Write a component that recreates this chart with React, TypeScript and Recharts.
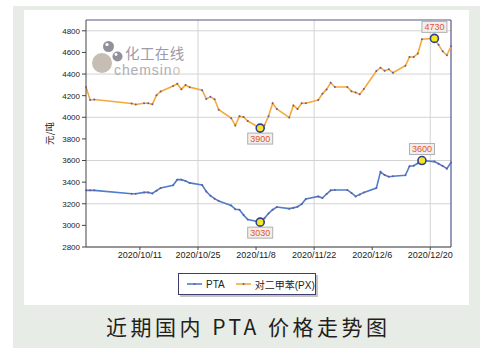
import React from "react";
import { LineChart, Line, XAxis, YAxis, CartesianGrid, ReferenceLine } from "recharts";

// trading days shown in the chart
const dates = [
  "2020/9/28", "2020/9/29", "2020/9/30",
  "2020/10/9", "2020/10/10", "2020/10/12", "2020/10/13", "2020/10/14", "2020/10/15", "2020/10/16",
  "2020/10/19", "2020/10/20", "2020/10/21", "2020/10/22", "2020/10/23",
  "2020/10/26", "2020/10/27", "2020/10/28", "2020/10/29", "2020/10/30",
  "2020/11/2", "2020/11/3", "2020/11/4", "2020/11/5", "2020/11/6",
  "2020/11/9", "2020/11/10", "2020/11/11", "2020/11/12", "2020/11/13",
  "2020/11/16", "2020/11/17", "2020/11/18", "2020/11/19", "2020/11/20",
  "2020/11/23", "2020/11/24", "2020/11/25", "2020/11/26", "2020/11/27",
  "2020/11/30", "2020/12/1", "2020/12/2", "2020/12/3", "2020/12/4",
  "2020/12/7", "2020/12/8", "2020/12/9", "2020/12/10", "2020/12/11",
  "2020/12/14", "2020/12/15", "2020/12/16", "2020/12/17", "2020/12/18",
  "2020/12/21", "2020/12/22", "2020/12/23", "2020/12/24", "2020/12/25",
];

const ptaValues = [
  3324, 3324, 3324,
  3293, 3293, 3305, 3305, 3295, 3321, 3346,
  3372, 3423, 3423, 3411, 3393,
  3374, 3314, 3274, 3247, 3225,
  3184, 3150, 3144, 3095, 3055,
  3030, 3065, 3110, 3145, 3170,
  3155, 3162, 3172, 3197, 3244,
  3268, 3253, 3290, 3324, 3328,
  3328, 3300, 3268, 3285, 3305,
  3345, 3495, 3465, 3450, 3455,
  3463, 3548, 3552, 3575, 3600,
  3590, 3570, 3550, 3525, 3582,
];

const pxValues = [
  4280, 4160, 4165,
  4127, 4118, 4130, 4130, 4121, 4205, 4239,
  4290, 4310, 4260, 4298, 4279,
  4251, 4170, 4189, 4167, 4070,
  3992, 3924, 4010, 4003, 3965,
  3900, 3925, 4010, 4130, 4077,
  3997, 4110, 4077, 4130, 4130,
  4160, 4217, 4258, 4320, 4280,
  4280, 4240, 4230, 4212, 4262,
  4428, 4459, 4430, 4444, 4412,
  4477, 4558, 4558, 4590, 4722,
  4730, 4670, 4610, 4574, 4657,
];

const seriesNames = ["PTA", "对二甲苯(PX)"];
const seriesColors = ["#4f7fca", "#f7a83c"];
const xTickLabels = ["2020/10/11", "2020/10/25", "2020/11/8", "2020/11/22", "2020/12/6", "2020/12/20"];
const yTicks = [2800, 3000, 3200, 3400, 3600, 3800, 4000, 4200, 4400, 4600, 4800];
const yMax = 4900;

const start = Date.UTC(2020, 8, 28);
function dayOf(s: string) {
  const [y, m, d] = s.split("/").map(Number);
  return Math.round((Date.UTC(y, m - 1, d) - start) / 86400000);
}

const lastDay = dayOf(dates[dates.length - 1]);
const xTicks = xTickLabels.map(dayOf);
const tickName: Record<number, string> = {};
xTickLabels.forEach((l) => (tickName[dayOf(l)] = l));

const data = dates.map((d, i) => ({ x: dayOf(d), pta: ptaValues[i], px: pxValues[i] }));

const font = '"Liberation Sans", Arial, "Noto Sans CJK SC", sans-serif';

function makeDot(values: number[]) {
  const maxI = values.indexOf(Math.max(...values));
  const minI = values.indexOf(Math.min(...values));
  return (p: any) => {
    const { cx, cy, index } = p;
    if (index === maxI || index === minI) {
      const by = index === maxI ? cy - 17 : cy + 5;
      return (
        <g key={`d${index}`}>
          <rect x={cx - 12.5} y={by} width={25} height={11} fill="#efefef" stroke="#b0b0b0" />
          <text x={cx} y={by + 8.5} textAnchor="middle" fontSize={9} fill="#e8532b" fontFamily={font}>
            {values[index]}
          </text>
          <circle cx={cx} cy={cy} r={4} fill="#f3e62a" stroke="#2d3f8e" strokeWidth={1.6} />
        </g>
      );
    }
    return <circle key={`d${index}`} cx={cx} cy={cy} r={1} fill="#6c5c98" />;
  };
}

function Watermark() {
  return (
    <svg width={488} height={356} style={{ position: "absolute", left: 0, top: 0, pointerEvents: "none" }}>
      <g opacity={0.85}>
        <circle cx={102} cy={63} r={10} fill="#bdb3a7" />
        <circle cx={108.5} cy={46.5} r={5.5} fill="#7e7e8e" />
        <circle cx={117.5} cy={56.5} r={5} fill="#7e7e8e" />
        <circle cx={107} cy={44.5} r={1.6} fill="#fff" />
        <circle cx={116} cy={54.5} r={1.4} fill="#fff" />
        <text x={125} y={59} fontSize={14.5} fill="#8a8a9c" letterSpacing={0.4} fontFamily='"Noto Sans CJK SC", sans-serif'>
          化工在线
        </text>
        <text x={114} y={75} fontSize={14} fill="#a2a2aa" letterSpacing={0.9} fontFamily={font}>
          chemsin<tspan fill="#c9beb0">o</tspan>
        </text>
      </g>
    </svg>
  );
}

export default function App() {
  return (
    <div style={{ position: "absolute", left: 0, top: 0, width: 488, height: 356, background: "#fff", overflow: "hidden" }}>
      <div style={{ position: "absolute", left: 13, top: 6, width: 467, height: 342, background: "#e8ece6" }} />
      <div style={{ position: "absolute", left: 24, top: 10, width: 445, height: 295, background: "#fff" }} />
      <div style={{ position: "absolute", left: 0, top: 0 }}>
        <LineChart width={488} height={356} data={data} margin={{ top: 20, right: 37, bottom: 79, left: 46 }}>
          <CartesianGrid stroke="#d3d3d3" horizontalValues={yTicks} verticalValues={xTicks} />
          <XAxis
            dataKey="x"
            type="number"
            domain={[0, lastDay]}
            ticks={xTicks}
            tickFormatter={(v: number) => tickName[v] ?? ""}
            height={30}
            stroke="#444"
            tickSize={3}
            tickMargin={2}
            tick={{ fontSize: 9, fill: "#222", fontFamily: font }}
          />
          <YAxis
            type="number"
            domain={[2800, yMax]}
            ticks={yTicks}
            width={40}
            stroke="#444"
            tickSize={4}
            tickMargin={2}
            tick={{ fontSize: 8, fill: "#222", fontFamily: font }}
            label={{ value: "元/吨", angle: -90, position: "left", offset: -4, style: { fontSize: 9.5, fill: "#222", fontFamily: '"Noto Sans CJK SC", sans-serif', textAnchor: "middle" } }}
          />
          <ReferenceLine y={yMax} stroke="#55558a" strokeWidth={1.2} />
          <ReferenceLine x={lastDay} stroke="#55558a" strokeWidth={1.2} />
          <Line
            dataKey="pta"
            name={seriesNames[0]}
            stroke={seriesColors[0]}
            strokeWidth={1.6}
            dot={makeDot(ptaValues)}
            activeDot={false}
            isAnimationActive={false}
          />
          <Line
            dataKey="px"
            name={seriesNames[1]}
            stroke={seriesColors[1]}
            strokeWidth={1.6}
            dot={makeDot(pxValues)}
            activeDot={false}
            isAnimationActive={false}
          />
        </LineChart>
      </div>
      <Watermark />
      <div
        style={{
          position: "absolute", left: 178, top: 273, width: 136, height: 20,
          border: "1px solid #3d3d70", boxShadow: "2px 2px 0 #c4c4c4", background: "#fff",
          display: "flex", alignItems: "center", fontFamily: font, fontSize: 10, color: "#222",
        }}
      >
        {seriesNames.map((n, i) => (
          <div key={n} style={{ display: "flex", alignItems: "center", marginLeft: i === 0 ? 8 : 11 }}>
            <svg width={15} height={4} style={{ marginRight: 4 }}>
              <line x1={0} y1={2} x2={15} y2={2} stroke={seriesColors[i]} strokeWidth={1.6} />
              <circle cx={7.5} cy={2} r={1} fill="#6c5c98" />
            </svg>
            <span>{n}</span>
          </div>
        ))}
      </div>
      <div
        style={{
          position: "absolute", left: 13, top: 305, width: 467, height: 42,
          display: "flex", alignItems: "center", justifyContent: "center",
          fontFamily: '"Noto Sans CJK SC", sans-serif', fontSize: 21, letterSpacing: 3.5,
          paddingLeft: 3.5, boxSizing: "border-box", color: "#231f20",
        }}
      >
        近期国内 PTA 价格走势图
      </div>
    </div>
  );
}
